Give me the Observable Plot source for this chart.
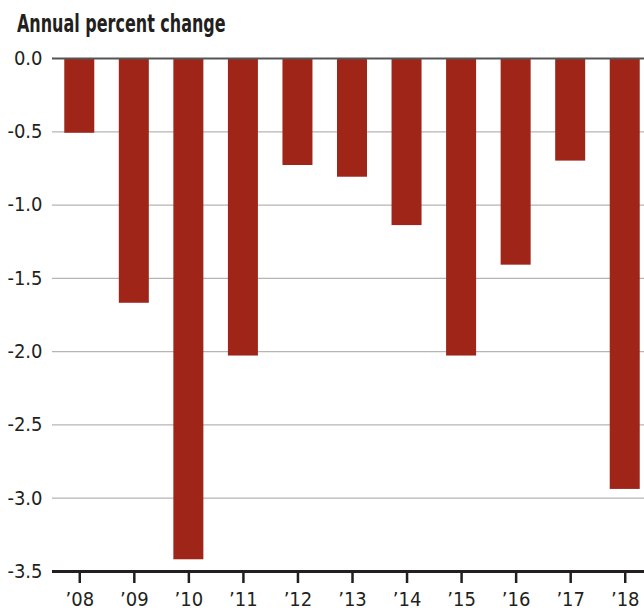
<!DOCTYPE html>
<html>
<head>
<meta charset="utf-8">
<script src="https://cdn.jsdelivr.net/npm/d3@7"></script>
<script src="https://cdn.jsdelivr.net/npm/@observablehq/plot@0.6"></script>
<style>
  html, body { margin: 0; padding: 0; background: #fff; overflow: hidden; }
  #title {
    height: 40px;
    font-family: "Liberation Sans Narrow", "DejaVu Sans Condensed", "Roboto Condensed", sans-serif;
    font-weight: bold;
    font-size: 24px;
    color: #231f20;
    padding-left: 17px;
    line-height: 48px;
    white-space: nowrap;
  }
  #title span { display: inline-block; transform: scaleX(0.74); transform-origin: 0 50%; }
  #chart svg { display: block; }
</style>
</head>
<body>
<div id="title"><span>Annual percent change</span></div>
<div id="chart"></div>
<script>
const years = ["’08", "’09", "’10", "’11", "’12", "’13", "’14", "’15", "’16", "’17", "’18"];
const values = [-0.51, -1.67, -3.42, -2.03, -0.73, -0.81, -1.14, -2.03, -1.41, -0.70, -2.94];
const yTicks = [0, -0.5, -1.0, -1.5, -2.0, -2.5, -3.0, -3.5];

const data = years.map((y, i) => ({year: y, value: values[i]}));
const font = '"Liberation Sans Narrow", "DejaVu Sans Condensed", sans-serif';

const chart = Plot.plot({
  width: 644,
  height: 569,
  marginLeft: 52,
  marginRight: 0,
  marginTop: 18,
  marginBottom: 38,
  style: {fontFamily: font, fontSize: "20px", color: "#231f20", background: "#fff", overflow: "visible"},
  x: {type: "band", domain: years, range: [52, 652], round: false, paddingInner: 0.45, paddingOuter: 0.225, axis: null},
  y: {domain: [-3.5, 0], axis: null},
  marks: [
    Plot.ruleY(yTicks.filter(d => d !== 0 && d !== -3.5), {stroke: "#b5b5b5", strokeWidth: 1.2}),
    Plot.barY(data, {x: "year", y: "value", fill: "#9e2518"}),
    Plot.ruleY([0], {stroke: "#555", strokeWidth: 2}),
    Plot.ruleY([-3.5], {stroke: "#231f20", strokeWidth: 3}),
    Plot.axisY(yTicks, {
      tickSize: 0, tickPadding: 10, tickFormat: d => d.toFixed(1),
      fontSize: 20, fill: "#231f20", label: null
    }),
    Plot.axisX(years, {
      tickSize: 12, tickPadding: 8, stroke: "#231f20", strokeWidth: 2.5,
      fontSize: 20, fill: "#231f20", label: null
    })
  ]
});
document.getElementById("chart").appendChild(chart);
</script>
</body>
</html>
